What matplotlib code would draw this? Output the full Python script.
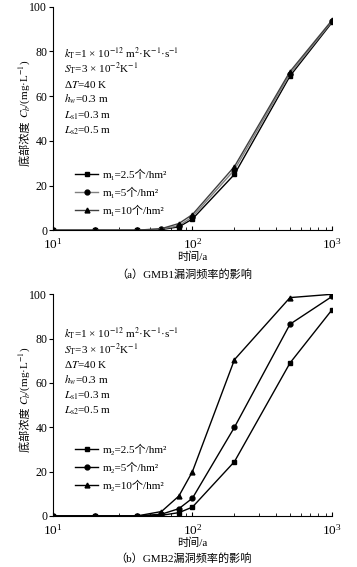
import numpy as np
import matplotlib
matplotlib.use('Agg')
import matplotlib.pyplot as plt

plt.rcParams['font.family'] = ['Liberation Serif', 'Noto Sans CJK SC', 'DejaVu Sans']
plt.rcParams['mathtext.fontset'] = 'stix'
plt.rcParams['font.size'] = 8

# 数据
t = [10, 20, 40, 60, 80, 100, 200, 500, 1000]
a_m25 = [0, 0, 0, 0.3, 1.5, 5, 25, 69, 93]
a_m5 = [0, 0, 0, 0.5, 2.0, 6, 27, 70, 93.5]
a_m10 = [0, 0, 0, 0.7, 3.0, 7, 28.5, 71, 94]
b_m25 = [0, 0, 0, 0.3, 1.5, 4, 24.5, 69, 93]
b_m5 = [0, 0, 0, 0.8, 3.3, 8, 40, 86.5, 99]
b_m10 = [0, 0, 0, 2.0, 9.0, 20, 70.5, 98.5, 100]
labels_a = ['m\u2081=2.5个/hm\u00b2', 'm\u2081=5个/hm\u00b2', 'm\u2081=10个/hm\u00b2']
labels_b = ['m\u2082=2.5个/hm\u00b2', 'm\u2082=5个/hm\u00b2', 'm\u2082=10个/hm\u00b2']
params = [r'$k_{\mathrm{T}}$=1 × 10$^{-12}$ m$^{2}$·K$^{-1}$·s$^{-1}$',
          r'$S_{\mathrm{T}}$=3 × 10$^{-2}$K$^{-1}$',
          r'Δ$T$=40 K',
          r'$h_{w}$=0.3 m',
          r'$L_{\mathrm{s1}}$=0.3 m',
          r'$L_{\mathrm{s2}}$=0.5 m']

fig = plt.figure(figsize=(3.57, 5.67), dpi=100)
ax1 = fig.add_axes([0.148, 0.594, 0.782, 0.394])
ax2 = fig.add_axes([0.148, 0.090, 0.782, 0.391])

def setup(ax, series, labels, colors, ytext, yleg):
    marks = ['s', 'o', '^']
    for y, lab, c, m in zip(series, labels, colors, marks):
        ax.plot(t, y, color=c, marker=m, markersize=3.5, lw=1.0,
                markerfacecolor='black', markeredgecolor='black', label=lab)
    ax.set_xscale('log')
    ax.set_xlim(10, 1000)
    ax.set_ylim(0, 100)
    ax.set_yticks([0, 20, 40, 60, 80, 100])
    ax.spines['top'].set_visible(False)
    ax.spines['right'].set_visible(False)
    ax.tick_params(axis='x', which='major', direction='in', length=3, labelsize=9.5, pad=5)
    ax.tick_params(axis='x', which='minor', direction='in', length=2)
    ax.tick_params(axis='y', direction='out', length=3, labelsize=8.5, pad=1)
    ax.set_xlabel('时间/a', fontsize=8, labelpad=0)
    for i, s in enumerate(params):
        ax.text(0.04, ytext - i * 0.07, s, transform=ax.transAxes, fontsize=8, va='center')
    ax.legend(loc='upper left', bbox_to_anchor=(0.065, yleg), frameon=False,
              fontsize=8, handlelength=2.0, handletextpad=0.5, labelspacing=0.6,
              borderaxespad=0)

setup(ax1, [a_m25, a_m5, a_m10], labels_a, ['black', '0.5', '0.25'], 0.794, 0.295)
setup(ax2, [b_m25, b_m5, b_m10], labels_b, ['black', 'black', 'black'], 0.824, 0.345)

fig.text(0.515, 1 - 274 / 567, '（a）GMB1漏洞频率的影响', ha='center', va='center', fontsize=8)
fig.text(0.515, 1 - 558 / 567, '（b）GMB2漏洞频率的影响', ha='center', va='center', fontsize=8)

# y轴标签：中文 + 数学部分
fig.canvas.draw()
r = fig.canvas.get_renderer()
for ax in (ax1, ax2):
    pos = ax.get_position()
    yc = (pos.y0 + pos.y1) / 2 + 0.01
    t1 = fig.text(0.07, yc, '底部浓度 ', rotation=90, fontsize=8, ha='center', va='center')
    t2 = fig.text(0.07, yc, r'$C_{b}$/(mg·L$^{-1}$)', rotation=90, fontsize=8, ha='center', va='bottom')
    fig.canvas.draw()
    b1 = t1.get_window_extent(r)
    b2 = t2.get_window_extent(r)
    total = b1.height + b2.height
    ymid = yc * fig.bbox.height
    y0 = ymid - total / 2
    t1.set_y((y0 + b1.height / 2) / fig.bbox.height)
    t2.set_y((y0 + b1.height) / fig.bbox.height)

fig.savefig('out.png', dpi=100)
